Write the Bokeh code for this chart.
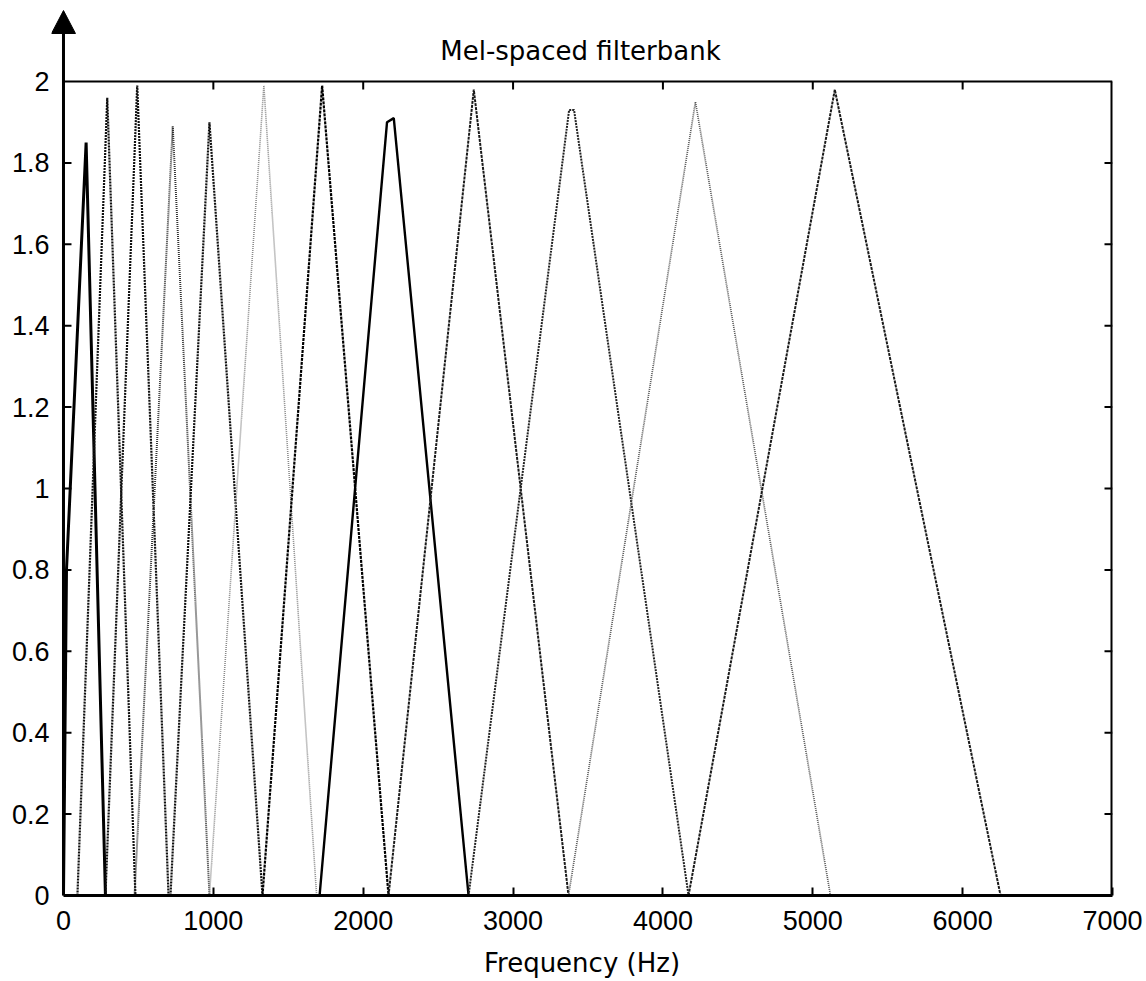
import math
from bokeh.plotting import figure
from bokeh.models import FixedTicker, Range1d, Label
from bokeh.embed import file_html
from bokeh.resources import INLINE

# ---- data ----
title_text = "Mel-spaced filterbank"
x_label = "Frequency (Hz)"
x_ticks = [0, 1000, 2000, 3000, 4000, 5000, 6000, 7000]
y_ticks = [0, 0.2, 0.4, 0.6, 0.8, 1.0, 1.2, 1.4, 1.6, 1.8, 2.0]
y_tick_labels = ["0", "0.2", "0.4", "0.6", "0.8", "1", "1.2", "1.4", "1.6", "1.8", "2"]

# filter vertices: frequency (Hz) and gain, one list per filter
filter_freqs = [
    [0, 20, 151, 280],
    [93, 292, 480],
    [280, 492, 701],
    [474, 729, 974],
    [714, 974, 1328],
    [974, 1337, 1689],
    [1328, 1726, 2169],
    [1709, 2159, 2204, 2703],
    [2169, 2738, 3370],
    [2703, 3374, 3407, 4171],
    [3370, 4217, 5118],
    [4171, 5147, 6253],
]
filter_gains = [
    [0, 0.80, 1.85, 0],
    [0, 1.96, 0],
    [0, 1.99, 0],
    [0, 1.89, 0],
    [0, 1.90, 0],
    [0, 1.99, 0],
    [0, 1.99, 0],
    [0, 1.90, 1.91, 0],
    [0, 1.98, 0],
    [0, 1.93, 1.93, 0],
    [0, 1.95, 0],
    [0, 1.98, 0],
]

# ---- styles (one per filter) ----
line_colors = ["#000000", "#111111", "#111111", "#333333", "#111111", "#8a8a8a",
               "#000000", "#000000", "#1a1a1a", "#222222", "#555555", "#1a1a1a"]
line_dashes = ["solid", "2 1", "2 1", "1 1", "2 1", "1 1",
               "3 1", "solid", "3 1", "2 1", "1 1", "3 1"]
line_widths = [3, 2.2, 2.2, 2, 2.2, 1.6, 2.2, 2.4, 2, 2, 1.7, 2]

TICK_FONT = "Liberation Sans"
TEXT_FONT = "DejaVu Sans"

X_MIN, X_MAX = 0, 7000
Y_MIN, Y_MAX = 0, 2
# the frame reaches a little past the box so that the y-axis arrow fits inside it
p = figure(width=1146, height=981, output_backend="svg", toolbar_location=None,
           x_range=Range1d(-80, X_MAX), y_range=Range1d(Y_MIN, 2.1794),
           min_border_left=51, min_border_right=34, min_border_top=8, min_border_bottom=86,
           background_fill_color="white", border_fill_color="white")
p.outline_line_color = None
p.xgrid.visible = False
p.ygrid.visible = False

for fx, fy, c, d, w in zip(filter_freqs, filter_gains, line_colors, line_dashes, line_widths):
    p.line(fx, fy, line_color=c, line_dash=d, line_width=w)

# bottom axis
xa = p.xaxis[0]
xa.ticker = FixedTicker(ticks=x_ticks)
xa.axis_label = x_label
xa.bounds = (X_MIN, X_MAX)
xa.major_tick_in = 8
xa.major_tick_out = 0
xa.minor_tick_line_color = None
xa.axis_line_width = 3
xa.major_tick_line_width = 2
xa.axis_line_color = "black"
xa.major_tick_line_color = "black"
xa.major_label_standoff = 15
xa.axis_label_text_font = TEXT_FONT
xa.axis_label_text_font_size = "26px"
xa.axis_label_text_font_style = "normal"
xa.axis_label_text_color = "black"
xa.axis_label_standoff = 15

# left axis: only its labels (its line and ticks are drawn at x = 0 below)
ya = p.yaxis[0]
ya.ticker = FixedTicker(ticks=y_ticks)
ya.major_label_overrides = {t: l for t, l in zip(y_ticks, y_tick_labels)}
ya.axis_line_color = None
ya.major_tick_line_color = None
ya.minor_tick_line_color = None
ya.major_tick_in = 0
ya.major_tick_out = 0
ya.major_label_standoff = 2

for ax in (xa, ya):
    ax.major_label_text_font = TICK_FONT
    ax.major_label_text_font_size = "27px"
    ax.major_label_text_color = "black"

# y axis line at x = 0, running up into the arrow head
p.segment(x0=[X_MIN], y0=[Y_MIN], x1=[X_MIN], y1=[2.12], line_color="black", line_width=3)
p.patch(x=[-80, 80, 0], y=[2.118, 2.118, 2.1744], fill_color="black", line_color="black",
        line_width=1)
inner_x = x_ticks[1:-1]
inner_y = y_ticks[1:-1]
p.ray(x=[X_MIN] * len(inner_y), y=inner_y, length=8, length_units="screen",
      angle=0, line_color="black", line_width=2)

# top and right edges of the box with inward ticks
p.segment(x0=[X_MIN], y0=[Y_MAX], x1=[X_MAX], y1=[Y_MAX], line_color="black", line_width=2)
p.segment(x0=[X_MAX], y0=[Y_MIN], x1=[X_MAX], y1=[Y_MAX], line_color="black", line_width=4)
p.ray(x=inner_x, y=[Y_MAX] * len(inner_x), length=8, length_units="screen",
      angle=-math.pi / 2, line_color="black", line_width=2)
p.ray(x=[X_MAX] * len(inner_y), y=inner_y, length=8, length_units="screen",
      angle=math.pi, line_color="black", line_width=2)

# title
p.add_layout(Label(x=3450, y=2.075, text=title_text, text_align="center",
                   text_baseline="alphabetic", text_font=TEXT_FONT,
                   text_font_size="26px", text_color="black"))

open("out.html", "w").write(file_html(p, INLINE))
